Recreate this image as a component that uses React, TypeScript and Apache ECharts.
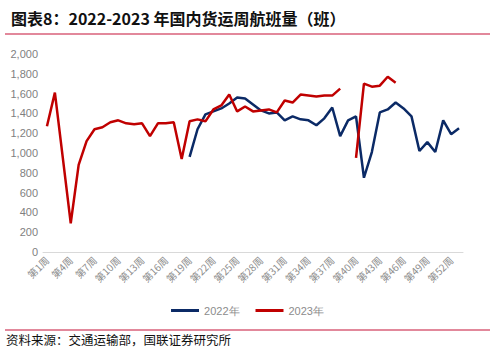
import React, { useEffect, useRef } from "react";
import * as echarts from "echarts";

const weeks: string[] = Array.from({ length: 53 }, (_, i) => `第${i + 1}周`);

const y2022: (number | null)[] = [
  null, null, null, null, null, null, null, null, null, null,
  null, null, null, null, null, null, null, null,
  960, 1240, 1390, 1420, 1450, 1500, 1560, 1550, 1490, 1430, 1400, 1410,
  1330, 1370, 1340, 1330, 1280, 1350, 1460, 1170, 1330, 1370,
  750, 1010, 1410, 1440, 1510, 1450, 1370, 1020, 1110, 1010,
  1330, 1190, 1250,
];

const y2023: (number | null)[] = [
  1270, 1610, 950, 290, 880, 1120, 1240, 1260, 1310, 1330,
  1300, 1290, 1300, 1170, 1300, 1300, 1310, 940, 1320, 1340,
  1320, 1440, 1480, 1590, 1420, 1470, 1420, 1430, 1440, 1410,
  1530, 1510, 1590, 1580, 1570, 1580, 1580, 1650, null, 950,
  1700, 1670, 1680, 1770, 1710,
];

const seriesNames = ["2022年", "2023年"];
const titleText = "图表8：2022-2023 年国内货运周航班量（班）";
const sourceText = "资料来源：交通运输部，国联证券研究所";

export default function App() {
  const ref = useRef<HTMLDivElement>(null);
  useEffect(() => {
    if (!ref.current) return;
    const chart = echarts.init(ref.current, null, { renderer: "svg" });
    chart.setOption({
      animation: false,
      backgroundColor: "#ffffff",
      textStyle: { fontFamily: "'Noto Sans CJK SC', 'Noto Sans', sans-serif" },
      title: {
        text: titleText,
        left: 6,
        top: 5,
        textStyle: { fontSize: 16, fontWeight: "bold", color: "#111111", fontFamily: "'Noto Sans CJK SC', sans-serif" },
      },
      graphic: [
        { type: "line", shape: { x1: 5, y1: 34, x2: 490, y2: 34 }, style: { stroke: "#d9607a", lineWidth: 1.5 } },
        { type: "line", shape: { x1: 5, y1: 330, x2: 490, y2: 330 }, style: { stroke: "#d9607a", lineWidth: 1.5 } },
        {
          type: "text",
          left: 6,
          top: 333,
          style: { text: sourceText, fontSize: 12.5, fill: "#111111", fontFamily: "'Noto Sans CJK SC', sans-serif" },
        },
      ],
      legend: {
        data: seriesNames,
        top: 300,
        left: "center",
        itemWidth: 28,
        itemHeight: 3,
        itemGap: 16,
        icon: "rect",
        textStyle: { color: "#8c8c8c", fontSize: 11, fontFamily: "Arial, 'Liberation Sans', sans-serif" },
      },
      grid: { left: 43, right: 32, top: 54, bottom: 102, containLabel: false },
      xAxis: {
        type: "category",
        data: weeks,
        boundaryGap: true,
        axisLine: { show: true, lineStyle: { color: "#d9d9d9" } },
        axisTick: { show: false },
        axisLabel: {
          interval: 2,
          rotate: 45,
          color: "#8c8c8c",
          fontSize: 10,
          margin: 6,
        },
      },
      yAxis: {
        type: "value",
        min: 0,
        max: 2000,
        interval: 200,
        splitLine: { show: false },
        axisLine: { show: false },
        axisTick: { show: false },
        axisLabel: {
          color: "#7f7f7f",
          fontSize: 11,
          margin: 5,
          fontFamily: "Arial, 'Liberation Sans', sans-serif",
          formatter: (v: number) => v.toLocaleString("en-US"),
        },
      },
      series: [
        {
          name: seriesNames[0],
          type: "line",
          data: y2022,
          showSymbol: false,
          symbol: "none",
          connectNulls: false,
          lineStyle: { color: "#0b2a66", width: 2.5 },
          itemStyle: { color: "#0b2a66" },
        },
        {
          name: seriesNames[1],
          type: "line",
          data: y2023,
          showSymbol: false,
          symbol: "none",
          connectNulls: false,
          lineStyle: { color: "#c00000", width: 2.5 },
          itemStyle: { color: "#c00000" },
        },
      ],
    });
    return () => chart.dispose();
  }, []);
  return (
    <div
      ref={ref}
      style={{ position: "absolute", left: 0, top: 0, width: 495, height: 354 }}
    />
  );
}
